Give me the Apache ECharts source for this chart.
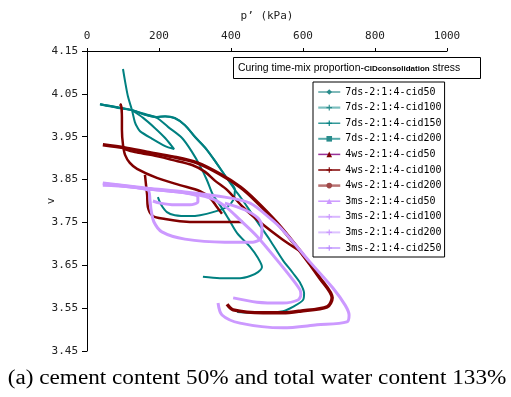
<!DOCTYPE html>
<html>
<head>
<meta charset="utf-8">
<script src="https://cdn.jsdelivr.net/npm/echarts@6/dist/echarts.min.js"></script>
<style>
  html, body { margin: 0; padding: 0; background: #fff; }
  #chart { width: 511px; height: 397px; }
</style>
</head>
<body>
<div id="chart"></div>
<script>
// Axis ticks
const xTicks = [0, 200, 400, 600, 800, 1000];
const yTicks = [3.45, 3.55, 3.65, 3.75, 3.85, 3.95, 4.05, 4.15];

// Stress paths: [p' (kPa), v]
const s7ds50 = [[100,4.108],[106,4.078],[114,4.043],[125,4.012],[133,3.984],[139,3.973],[147,3.963],[181,3.945],[217,3.928],[242,3.921],[217,3.947],[189,3.970],[156,3.994],[128,4.010]];
const s7ds100 = [[38,4.025],[86,4.017],[125,4.012],[161,4.001],[194,3.996],[217,3.998],[244,3.994],[272,3.977],[300,3.949],[328,3.924],[350,3.900],[369,3.877],[392,3.849],[411,3.826],[406,3.802],[389,3.786],[350,3.774],[314,3.767],[286,3.765],[244,3.767],[222,3.774],[206,3.791],[197,3.809]];
const s7ds150 = [[36,4.026],[86,4.018],[125,4.012],[161,4.002],[194,3.996],[217,3.997],[244,3.993],[272,3.977],[300,3.950],[328,3.925],[350,3.900],[369,3.877],[392,3.849],[411,3.826],[428,3.807],[447,3.784],[475,3.749],[508,3.709],[544,3.662],[572,3.632],[592,3.609],[603,3.585],[600,3.569],[572,3.553],[544,3.543],[481,3.539],[417,3.541]];
const s7ds200 = [[36,4.026],[86,4.019],[125,4.012],[161,4.003],[194,3.994],[225,3.973],[264,3.947],[292,3.914],[314,3.882],[333,3.849],[350,3.814],[369,3.791],[392,3.760],[417,3.725],[453,3.693],[475,3.667],[486,3.646],[475,3.634],[453,3.625],[425,3.620],[369,3.620],[322,3.623]];
const s4ws50 = [[44,3.931],[106,3.924],[167,3.914],[239,3.903],[306,3.889],[369,3.863],[425,3.833],[467,3.802],[528,3.749],[592,3.683],[647,3.620],[681,3.574],[667,3.553],[592,3.543],[544,3.539],[489,3.539],[406,3.546],[389,3.559]];
const s4ws100 = [[92,4.022],[94,4.026],[97,3.996],[97,3.966],[100,3.931],[106,3.907],[119,3.889],[139,3.875],[194,3.854],[258,3.837],[314,3.823],[342,3.807],[361,3.786],[375,3.770]];
const s4ws200 = [[103,3.921],[133,3.914],[181,3.907],[236,3.896],[292,3.884],[328,3.868],[356,3.847],[389,3.826],[433,3.786],[486,3.747],[542,3.711],[592,3.683],['-','-'],[161,3.861],[164,3.837],[167,3.814],[169,3.786],[183,3.765],[217,3.758],[258,3.753],[314,3.751],[369,3.751],[433,3.751]];
const s3ms50 = [[44,3.840],[106,3.835],[169,3.828],[231,3.823],[272,3.819],[308,3.809],[308,3.798],[286,3.791],[244,3.791],[203,3.795],[183,3.800]];
const s3ms100 = [[44,3.837],[169,3.826],[175,3.802],[178,3.779],[186,3.751],[208,3.728],[272,3.711],[383,3.704],[461,3.704],[483,3.713],[486,3.737],[475,3.760],[439,3.779],[383,3.795]];
const s3ms200 = [[47,3.840],[169,3.828],[272,3.819],[342,3.807],[383,3.788],[425,3.756],[472,3.718],[528,3.662],[572,3.616],[592,3.592],[594,3.581],[586,3.569],[544,3.562],[472,3.564],[406,3.574]];
const s3ms250 = [[44,3.842],[169,3.830],[272,3.821],[383,3.809],[453,3.795],[508,3.760],[544,3.732],[619,3.658],[683,3.597],[717,3.557],[728,3.534],[722,3.518],[639,3.511],[544,3.504],[425,3.515],[375,3.534],[364,3.562]];

const seriesNames = [
  '7ds-2:1:4-cid50', '7ds-2:1:4-cid100', '7ds-2:1:4-cid150', '7ds-2:1:4-cid200',
  '4ws-2:1:4-cid50', '4ws-2:1:4-cid100', '4ws-2:1:4-cid200',
  '3ms-2:1:4-cid50', '3ms-2:1:4-cid100', '3ms-2:1:4-cid200', '3ms-2:1:4-cid250'
];
const seriesData = [s7ds50, s7ds100, s7ds150, s7ds200, s4ws50, s4ws100, s4ws200, s3ms50, s3ms100, s3ms200, s3ms250];

const TEAL = '#008080', MAROON = '#800000', LILAC = '#CC99FF';
const PLUS = 'path://M4,0h2v10h-2zM0,4h10v2h-10z';
// plot colour, plot width, legend line colour, legend line width, marker, marker colour
const looks = [
  [TEAL, 2, '#2A8C8C', 1.2, 'diamond', '#2A8C8C'],
  [TEAL, 2, '#7CBFBF', 2.2, PLUS, '#2A8C8C'],
  [TEAL, 2, '#008080', 1.2, PLUS, '#008080'],
  [TEAL, 2, '#55AAAA', 2.0, 'rect', '#2A8C8C'],
  [MAROON, 3.5, '#993399', 1.5, 'triangle', '#800000'],
  [MAROON, 2.5, '#800000', 1.5, PLUS, '#800000'],
  [MAROON, 2.5, '#B87272', 2.5, 'circle', '#A04848'],
  [LILAC, 3, '#CC99FF', 1.5, 'triangle', '#CC99FF'],
  [LILAC, 3, '#D9B8FF', 2.0, PLUS, '#CC99FF'],
  [LILAC, 3, '#DCC2FF', 2.0, PLUS, '#CC99FF'],
  [LILAC, 3, '#C39BFF', 1.5, PLUS, '#B98CFF']
];

const series = seriesNames.map((name, i) => ({
  name,
  type: 'line',
  data: seriesData[i],
  smooth: 0.3,
  showSymbol: false,
  symbol: looks[i][4],
  symbolSize: 4,
  connectNulls: false,
  itemStyle: { color: looks[i][0] },
  lineStyle: { color: looks[i][0], width: looks[i][1] },
  emphasis: { disabled: true }
}));

const legendData = seriesNames.map((name, i) => ({
  name,
  lineStyle: { color: looks[i][2], width: looks[i][3] },
  itemStyle: { color: looks[i][5] }
}));

const chart = echarts.init(document.getElementById('chart'), null, { renderer: 'canvas' });
chart.setOption({
  animation: false,
  backgroundColor: '#fff',
  grid: { left: 87, right: 64, top: 51, bottom: 46 },
  xAxis: {
    type: 'value',
    position: 'top',
    min: xTicks[0],
    max: xTicks[xTicks.length - 1],
    interval: 200,
    name: 'p\u2019 (kPa)',
    nameLocation: 'middle',
    nameGap: 29,
    nameMoveOverlap: false,
    nameTextStyle: { fontFamily: 'DejaVu Sans Mono', fontSize: 11, color: '#222' },
    axisLine: { show: true, onZero: false, lineStyle: { color: '#000', width: 1 } },
    axisTick: { show: true, length: 3, lineStyle: { color: '#000' } },
    axisLabel: {
      margin: 9, fontFamily: 'DejaVu Sans Mono', fontSize: 11, color: '#222',
      formatter: v => String(v)
    },
    splitLine: { show: false }
  },
  yAxis: {
    type: 'value',
    min: yTicks[0],
    max: yTicks[yTicks.length - 1],
    interval: 0.05,
    name: 'v',
    nameLocation: 'middle',
    nameGap: 30,
    nameMoveOverlap: false,
    nameRotate: 90,
    nameTextStyle: { fontFamily: 'DejaVu Sans Mono', fontSize: 11, color: '#222' },
    axisLine: { show: true, onZero: false, lineStyle: { color: '#000', width: 1 } },
    axisTick: { show: true, length: 5, customValues: yTicks, lineStyle: { color: '#000' } },
    axisLabel: {
      margin: 9, customValues: yTicks,
      fontFamily: 'DejaVu Sans Mono', fontSize: 11, color: '#222',
      formatter: v => v.toFixed(2)
    },
    splitLine: { show: false }
  },
  legend: {
    orient: 'vertical',
    left: 313,
    top: 82,
    padding: [5, 3, 4, 4],
    itemWidth: 22,
    itemHeight: 7,
    itemGap: 5.6,
    backgroundColor: '#fff',
    borderColor: '#000',
    borderWidth: 1,
    selectedMode: false,
    textStyle: { fontFamily: 'DejaVu Sans Mono', fontSize: 10, color: '#000' },
    data: legendData
  },
  graphic: [
    {
      type: 'rect',
      shape: { x: 233.5, y: 57.5, width: 247, height: 21 },
      style: { fill: '#fff', stroke: '#000', lineWidth: 1 }
    },
    {
      type: 'text',
      x: 238,
      y: 68.5,
      style: {
        text: '{a|Curing time-mix proportion-}{b|CIDconsolidation}{a| stress}',
        verticalAlign: 'middle',
        rich: {
          a: { fontFamily: 'Liberation Sans', fontSize: 10.4, fill: '#000' },
          b: { fontFamily: 'Liberation Sans', fontSize: 8, fontWeight: 'bold', fill: '#000' }
        }
      }
    },
    {
      type: 'text',
      x: 257,
      y: 379,
      scaleX: 1.16,
      originX: 0,
      originY: 0,
      style: {
        text: '(a) cement content 50% and total water content 133%',
        fontFamily: 'Liberation Serif',
        fontSize: 20,
        fill: '#000',
        align: 'center',
        verticalAlign: 'middle'
      }
    }
  ],
  series
});
</script>
</body>
</html>
